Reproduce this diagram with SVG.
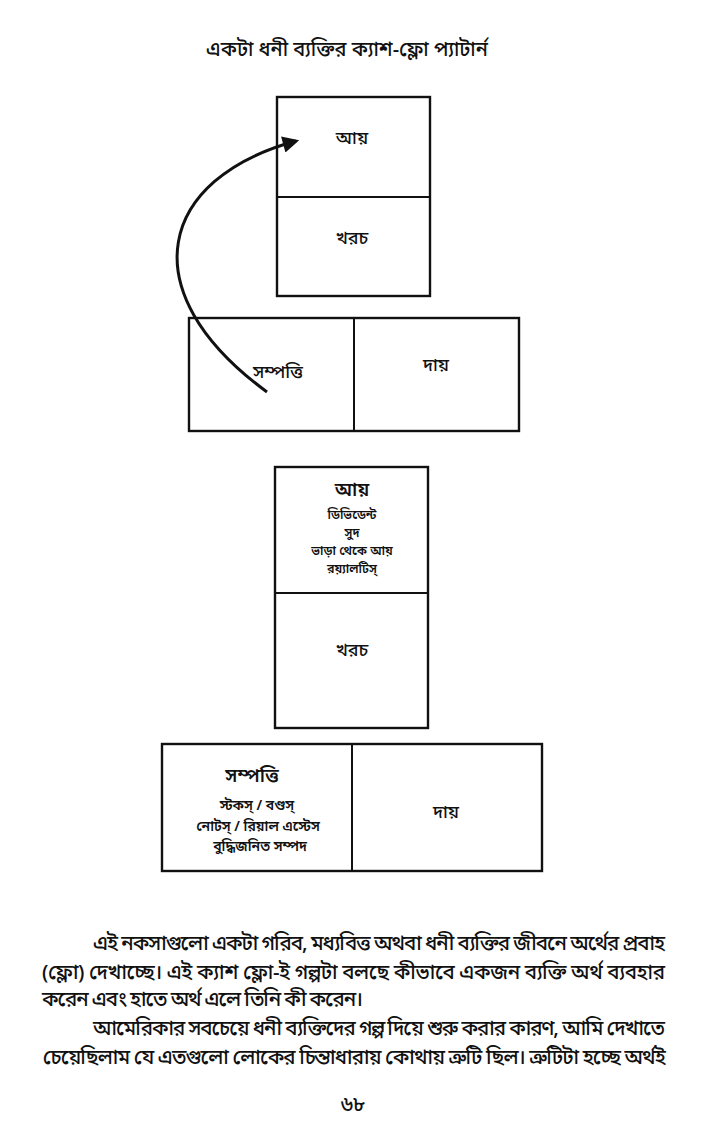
<svg xmlns="http://www.w3.org/2000/svg" width="705" height="1137" viewBox="0 0 705 1137">
<style>
text{font-family:"Noto Sans Bengali","Noto Serif Bengali","Lohit Bengali","Noto Sans","DejaVu Sans",sans-serif;fill:#111;}
.t{font-size:20px;text-anchor:middle;font-weight:500;}
.lbl{font-size:18px;text-anchor:middle;font-weight:500;}
.h{font-size:19px;text-anchor:middle;font-weight:600;}
.s{font-size:14px;text-anchor:middle;font-weight:600;}
.m{font-size:12.5px;text-anchor:middle;font-weight:600;}
.p{font-size:20.5px;font-weight:500;}
.box{fill:#fff;stroke:#111;stroke-width:2.4;}
.div{stroke:#111;stroke-width:2;}
.arr{fill:none;stroke:#111;stroke-width:3;}
</style>
<defs>
<marker id="ah" viewBox="0 0 10 10" refX="8" refY="5" markerWidth="7" markerHeight="5.5" orient="auto" markerUnits="strokeWidth">
<path d="M0,0 L10,5 L0,10 z" fill="#111"/>
</marker>
</defs>
<rect width="705" height="1137" fill="#fff"/>
<text class="t" x="347" y="56">একটা ধনী ব্যক্তির ক্যাশ-ফ্লো প্যাটার্ন</text>

<g id="income-expense-1">
<rect class="box" x="277" y="97" width="153" height="199"/>
<line class="div" x1="277" y1="197" x2="430" y2="197"/>
<text class="lbl" x="352" y="144">আয়</text>
<text class="lbl" x="352" y="244">খরচ</text>
</g>
<g id="asset-liability-1">
<rect class="box" x="189" y="318" width="330" height="113"/>
<line class="div" x1="354" y1="318" x2="354" y2="431"/>
<text class="lbl" x="278" y="378">সম্পত্তি</text>
<text class="lbl" x="436" y="371">দায়</text>
</g>
<g id="connectors">
<path class="arr" d="M267,392 C128,290 160,178 296,141" marker-end="url(#ah)"/>
</g>

<g id="income-expense-2">
<rect class="box" x="275" y="467" width="153" height="261"/>
<line class="div" x1="275" y1="593" x2="428" y2="593"/>
<text class="h" x="352" y="496">আয়</text>
<text class="m" x="352" y="519">ডিভিডেন্ট</text>
<text class="m" x="352" y="537">সুদ</text>
<text class="m" x="352" y="555">ভাড়া থেকে আয়</text>
<text class="m" x="352" y="573">রয়্যালটিস্</text>
<text class="lbl" x="352" y="656">খরচ</text>
</g>
<g id="asset-liability-2">
<rect class="box" x="162" y="744" width="380" height="127"/>
<line class="div" x1="352" y1="744" x2="352" y2="871"/>
<text class="h" x="252" y="782">সম্পত্তি</text>
<text class="s" x="257" y="810">স্টকস্ / বণ্ডস্</text>
<text class="s" x="258" y="831">নোটস্ / রিয়াল এস্টেস</text>
<text class="s" x="260" y="851">বুদ্ধিজনিত সম্পদ</text>
<text class="lbl" x="446" y="818">দায়</text>
</g>

<text class="p" x="93" y="950" textLength="572" lengthAdjust="spacing">এই নকসাগুলো একটা গরিব, মধ্যবিত্ত অথবা ধনী ব্যক্তির জীবনে অর্থের প্রবাহ</text>
<text class="p" x="42" y="979" textLength="623" lengthAdjust="spacing">(ফ্লো) দেখাচ্ছে। এই ক্যাশ ফ্লো-ই গল্পটা বলছে কীভাবে একজন ব্যক্তি অর্থ ব্যবহার</text>
<text class="p" x="42" y="1006" textLength="321" lengthAdjust="spacing">করেন এবং হাতে অর্থ এলে তিনি কী করেন।</text>
<text class="p" x="93" y="1035" textLength="572" lengthAdjust="spacing">আমেরিকার সবচেয়ে ধনী ব্যক্তিদের গল্প দিয়ে শুরু করার কারণ, আমি দেখাতে</text>
<text class="p" x="42" y="1064" textLength="623" lengthAdjust="spacing">চেয়েছিলাম যে এতগুলো লোকের চিন্তাধারায় কোথায় ত্রুটি ছিল। ত্রুটিটা হচ্ছে অর্থই</text>
<text class="p" x="353" y="1111" text-anchor="middle">৬৮</text>
</svg>
